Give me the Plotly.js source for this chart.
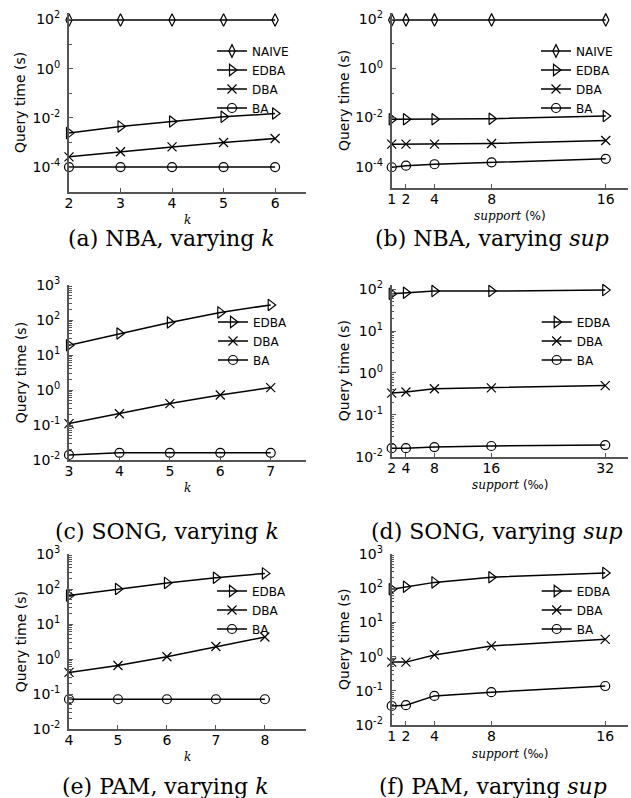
<!DOCTYPE html>
<html><head><meta charset="utf-8">
<script src="https://cdn.plot.ly/plotly-3.0.1.min.js"></script>
<style>html,body{margin:0;padding:0;background:#fff}#chart{width:631px;height:798px}</style>
</head><body><div id="chart"></div>
<script>
// ---------- data ----------
const seriesNames = ['NAIVE', 'EDBA', 'DBA', 'BA'];

// (a) NBA, varying k
const nbaK = [2, 3, 4, 5, 6];
const nbaK_NAIVE = [95, 95, 95, 95, 95];
const nbaK_EDBA = [0.0024, 0.0045, 0.0071, 0.011, 0.015];
const nbaK_DBA = [0.00026, 0.00042, 0.00066, 0.0010, 0.00145];
const nbaK_BA = [0.0001, 0.0001, 0.0001, 0.0001, 0.0001];

// (b) NBA, varying sup
const nbaSup = [1, 2, 4, 8, 16];
const nbaSup_NAIVE = [95, 95, 95, 95, 95];
const nbaSup_EDBA = [0.0085, 0.0085, 0.0085, 0.009, 0.0115];
const nbaSup_DBA = [0.00083, 0.00083, 0.00083, 0.00088, 0.00117];
const nbaSup_BA = [0.000095, 0.00011, 0.000126, 0.00015, 0.00021];

// (c) SONG, varying k
const songK = [3, 4, 5, 6, 7];
const songK_EDBA = [19, 41, 85, 165, 270];
const songK_DBA = [0.11, 0.21, 0.41, 0.72, 1.17];
const songK_BA = [0.014, 0.016, 0.016, 0.016, 0.016];

// (d) SONG, varying sup
const songSup = [2, 4, 8, 16, 32];
const songSup_EDBA = [78, 82, 90, 90, 95];
const songSup_DBA = [0.33, 0.35, 0.42, 0.44, 0.5];
const songSup_BA = [0.016, 0.016, 0.017, 0.018, 0.019];

// (e) PAM, varying k
const pamK = [4, 5, 6, 7, 8];
const pamK_EDBA = [65, 100, 150, 210, 280];
const pamK_DBA = [0.42, 0.66, 1.17, 2.3, 4.3];
const pamK_BA = [0.072, 0.072, 0.072, 0.072, 0.072];

// (f) PAM, varying sup
const pamSup = [1, 2, 4, 8, 16];
const pamSup_EDBA = [93, 110, 148, 210, 280];
const pamSup_DBA = [0.69, 0.69, 1.12, 2.05, 3.2];
const pamSup_BA = [0.036, 0.038, 0.071, 0.091, 0.138];

// tick labels
const yTicksNBA = [1e-4, 1e-2, 1, 100];
const yTextNBA = ['10<sup>-4</sup>', '10<sup>-2</sup>', '10<sup>0</sup>', '10<sup>2</sup>'];
const yTicksSONGk = [1e-2, 1e-1, 1, 10, 100, 1000];
const yTextSONGk = ['10<sup>-2</sup>', '10<sup>-1</sup>', '10<sup>0</sup>', '10<sup>1</sup>', '10<sup>2</sup>', '10<sup>3</sup>'];
const yTicksSONGsup = [1e-2, 1e-1, 1, 10, 100];
const yTextSONGsup = ['10<sup>-2</sup>', '10<sup>-1</sup>', '10<sup>0</sup>', '10<sup>1</sup>', '10<sup>2</sup>'];

const captions = [
  '(a) NBA, varying <i>k</i>', '(b) NBA, varying <i>sup</i>',
  '(c) SONG, varying <i>k</i>', '(d) SONG, varying <i>sup</i>',
  '(e) PAM, varying <i>k</i>', '(f) PAM, varying <i>sup</i>'
];
const SANS_SPAN = s => '<span style="font-family:DejaVu Sans;font-style:normal">' + s + '</span>';
const xTitles = ['<i>k</i>', '<i>support</i> ' + SANS_SPAN('(%)'), '<i>k</i>', '<i>support</i> ' + SANS_SPAN('(‰)'),
                 '<i>k</i>', '<i>support</i> ' + SANS_SPAN('(‰)')];
const yTitle = 'Query time (s)';

// ---------- layout geometry (pixels) ----------
const W = 631, H = 798;
const px = v => v / W, py = v => 1 - v / H;

const panels = [
  { x: nbaK, s: {NAIVE: nbaK_NAIVE, EDBA: nbaK_EDBA, DBA: nbaK_DBA, BA: nbaK_BA},
    xd: [69, 306], yd: [13, 191.7], xr: [2, 6.6], yr: [-5, 2.26], yt: yTicksNBA, ytt: yTextNBA, minor: 1,
    leg: [212, 79.5], cap: [171, 238], xt: 219.5 },
  { x: nbaSup, s: {NAIVE: nbaSup_NAIVE, EDBA: nbaSup_EDBA, DBA: nbaSup_DBA, BA: nbaSup_BA},
    xd: [391.7, 628], yd: [13, 188.3], xr: [1, 17.56], yr: [-4.88, 2.26], yt: yTicksNBA, ytt: yTextNBA, minor: 1,
    leg: [536, 79.5], cap: [492, 238], xt: 216.5 },
  { x: songK, s: {EDBA: songK_EDBA, DBA: songK_DBA, BA: songK_BA},
    xd: [69, 306], yd: [285, 460], xr: [3, 7.7], yr: [-2, 3], yt: yTicksSONGk, ytt: yTextSONGk, minor: 'D1',
    leg: [213, 341], cap: [167, 531], xt: 488 },
  { x: songSup, s: {EDBA: songSup_EDBA, DBA: songSup_DBA, BA: songSup_BA},
    xd: [391.7, 628], yd: [285, 456.7], xr: [2, 35.2], yr: [-2, 2.1], yt: yTicksSONGsup, ytt: yTextSONGsup, minor: 'D1',
    leg: [536.7, 341], cap: [497, 531], xt: 485 },
  { x: pamK, s: {EDBA: pamK_EDBA, DBA: pamK_DBA, BA: pamK_BA},
    xd: [69, 306], yd: [554, 729.3], xr: [4, 8.84], yr: [-2, 3], yt: yTicksSONGk, ytt: yTextSONGk, minor: 'D1',
    leg: [212, 610], cap: [165, 786], xt: 757 },
  { x: pamSup, s: {EDBA: pamSup_EDBA, DBA: pamSup_DBA, BA: pamSup_BA},
    xd: [391.7, 628], yd: [554, 725], xr: [1, 17.6], yr: [-2, 3], yt: yTicksSONGk, ytt: yTextSONGk, minor: 'D1',
    leg: [536.7, 610], cap: [492.5, 786], xt: 754 }
];

const symbols = {NAIVE: 'diamond-tall-open', EDBA: 'triangle-right-open', DBA: 'x-thin-open', BA: 'circle-open'};
const msize = {NAIVE: 9, EDBA: 10, DBA: 9, BA: 9};
const AX = '#555';
const sans = 'DejaVu Sans, sans-serif';
const serif = 'DejaVu Serif, serif';

const traces = [];
const layout = {
  width: W, height: H, margin: {l: 0, r: 0, t: 0, b: 0},
  paper_bgcolor: '#fff', plot_bgcolor: 'rgba(0,0,0,0)',
  font: {family: sans, size: 14, color: '#000'},
  annotations: []
};

panels.forEach((p, i) => {
  const n = i === 0 ? '' : String(i + 1);
  const legName = 'legend' + n;
  seriesNames.forEach(name => {
    if (!p.s[name]) return;
    traces.push({
      type: 'scatter', mode: 'lines+markers', name: name,
      x: p.x, y: p.s[name], xaxis: 'x' + n, yaxis: 'y' + n, legend: legName,
      cliponaxis: false,
      line: {color: '#000', width: 1.5},
      marker: {symbol: symbols[name], size: msize[name], color: '#000', line: {color: '#000', width: 1.2}}
    });
  });
  layout['xaxis' + n] = {
    domain: [px(p.xd[0]), px(p.xd[1])], range: p.xr, anchor: 'y' + n,
    tickvals: p.x, ticks: 'inside', ticklen: 4, tickcolor: AX, tickwidth: 1, ticklabelstandoff: -3,
    showline: true, linecolor: AX, linewidth: 2, showgrid: false, zeroline: false,
    tickfont: {family: sans, size: 14, color: '#000'}, fixedrange: true
  };
  layout['yaxis' + n] = {
    type: 'log', domain: [py(p.yd[1]), py(p.yd[0])], range: p.yr, anchor: 'x' + n,
    tickmode: 'array', tickvals: p.yt, ticktext: p.ytt, ticks: 'inside', ticklen: 4, tickcolor: AX, tickwidth: 1,
    ticklabelstandoff: 4,
    minor: {dtick: p.minor, ticks: 'inside', ticklen: 2.5, tickcolor: AX, tickwidth: 1, showgrid: false},
    showline: true, linecolor: AX, linewidth: 2, showgrid: false, zeroline: false,
    tickfont: {family: sans, size: 14, color: '#000'}, fixedrange: true
  };
  layout[legName] = {
    x: px(p.leg[0]), y: py(p.leg[1]), xanchor: 'left', yanchor: 'middle',
    bgcolor: 'rgba(0,0,0,0)', borderwidth: 0, tracegroupgap: 0,
    font: {family: sans, size: 12, color: '#000'}
  };
  // y title
  layout.annotations.push({
    text: yTitle, textangle: -90, xref: 'paper', yref: 'paper',
    x: px(p.xd[0] - 48.3), y: py((p.yd[0] + p.yd[1]) / 2), xanchor: 'center', yanchor: 'middle',
    showarrow: false, font: {family: sans, size: 14, color: '#000'}
  });
  // x title
  layout.annotations.push({
    text: xTitles[i], xref: 'paper', yref: 'paper',
    x: px((p.xd[0] + p.xd[1]) / 2), y: py(p.xt), xanchor: 'center', yanchor: 'middle',
    showarrow: false, font: {family: serif, size: 12, color: '#000'}
  });
  // caption
  layout.annotations.push({
    text: captions[i], xref: 'paper', yref: 'paper',
    x: px(p.cap[0]), y: py(p.cap[1]), xanchor: 'center', yanchor: 'middle',
    showarrow: false, font: {family: serif, size: 22, color: '#000'}
  });
});

Plotly.newPlot('chart', traces, layout, {staticPlot: true, displayModeBar: false});
</script>
</body></html>
